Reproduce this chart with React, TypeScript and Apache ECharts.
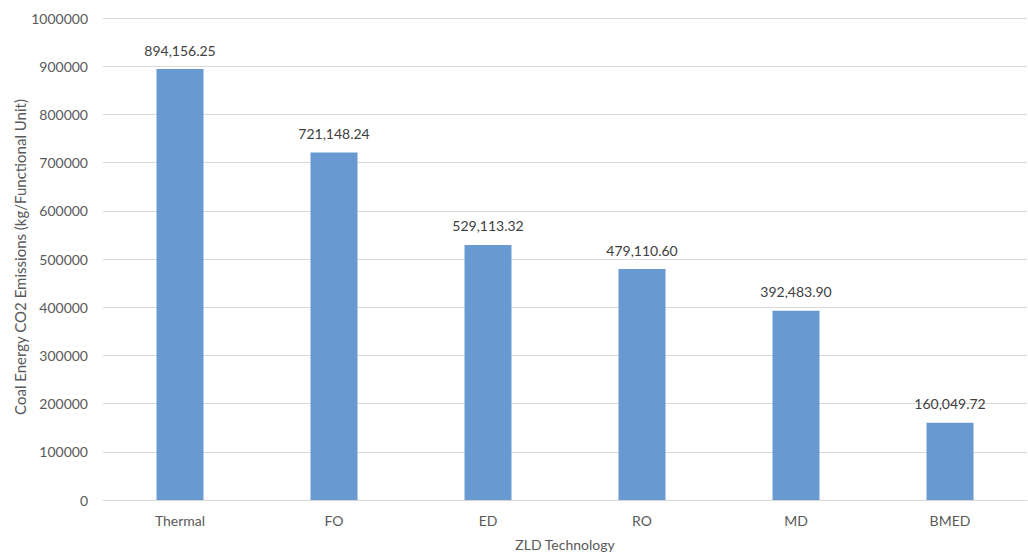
import React, { useEffect, useRef } from "react";
import * as echarts from "echarts";

const categories = ["Thermal", "FO", "ED", "RO", "MD", "BMED"];
const emissions = [894156.25, 721148.24, 529113.32, 479110.6, 392483.9, 160049.72];
const yTicks = { min: 0, max: 1000000, interval: 100000 };
const yAxisName = "Coal Energy CO2 Emissions (kg/Functional Unit)";
const xAxisName = "ZLD Technology";

const fmt = (v: number) =>
  v.toLocaleString("en-US", { minimumFractionDigits: 2, maximumFractionDigits: 2 });

export default function App() {
  const ref = useRef<HTMLDivElement>(null);
  useEffect(() => {
    document.body.style.margin = "0";
    const chart = echarts.init(ref.current!, null, { renderer: "svg" });
    const font = "Lato, 'Noto Sans', sans-serif";
    chart.setOption({
      animation: false,
      backgroundColor: "#ffffff",
      textStyle: { fontFamily: font },
      grid: { left: 103, right: 1, top: 18, bottom: 54, containLabel: false },
      xAxis: {
        type: "category",
        data: categories,
        axisLine: { show: true, lineStyle: { color: "#d9d9d9", width: 1 } },
        axisTick: { show: false },
        axisLabel: { color: "#595959", fontSize: 14, margin: 13, fontFamily: font },
      },
      yAxis: {
        type: "value",
        min: yTicks.min,
        max: yTicks.max,
        interval: yTicks.interval,
        axisLine: { show: false },
        axisTick: { show: false },
        splitLine: { lineStyle: { color: "#d9d9d9", width: 1 } },
        axisLabel: {
          color: "#595959",
          fontSize: 14,
          margin: 15,
          fontFamily: font,
          formatter: (v: number) => String(v),
        },
      },
      series: [
        {
          type: "bar",
          data: emissions,
          barWidth: "30.5%",
          itemStyle: { color: "#6899d0" },
          label: {
            show: true,
            position: "top",
            distance: 12,
            color: "#404040",
            fontSize: 14,
            fontFamily: font,
            formatter: (p: any) => fmt(p.value),
          },
        },
      ],
      graphic: [
        {
          type: "text",
          x: 20,
          y: 257,
          rotation: Math.PI / 2,
          originX: 0,
          originY: 0,
          style: {
            text: yAxisName,
            x: 0,
            y: 0,
            fill: "#595959",
            fontSize: 15,
            fontFamily: font,
            align: "center",
            verticalAlign: "middle",
          },
        },
        {
          type: "text",
          x: 565,
          y: 544,
          style: {
            text: xAxisName,
            fill: "#595959",
            fontSize: 14,
            fontFamily: font,
            align: "center",
            verticalAlign: "middle",
          },
        },
      ],
    });
    return () => chart.dispose();
  }, []);
  return <div ref={ref} style={{ width: 1028, height: 554 }} />;
}
